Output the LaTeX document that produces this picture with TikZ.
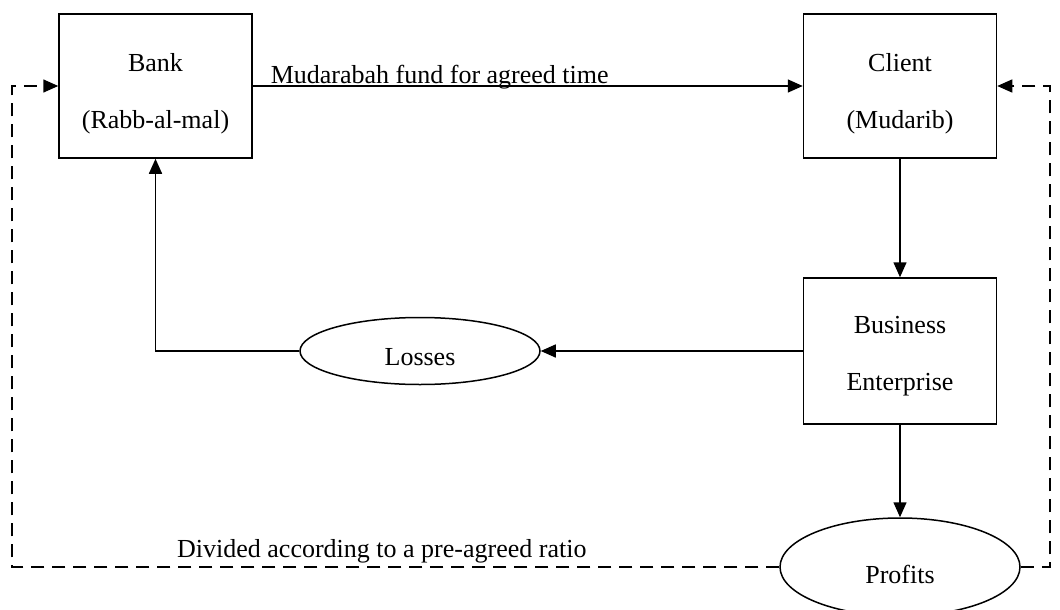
\documentclass[tikz,border=0pt]{standalone}
\usepackage{fontspec}
\setmainfont{Liberation Serif}
\usetikzlibrary{shapes.geometric,arrows.meta}

\tikzset{
  txt/.style={font=\fontsize{26}{57}\selectfont},
  boxnode/.style={draw, line width=1.5pt, txt, align=center, minimum width=193pt, inner sep=0pt},
  ovalnode/.style={draw, line width=1.5pt, ellipse, txt, inner sep=0pt, minimum width=240pt, text depth=0pt},
  flow/.style={line width=1.5pt, -{Triangle[length=15pt,width=13pt]}},
  back/.style={flow, dash pattern=on 13pt off 8pt},
}

\begin{document}
\begin{tikzpicture}[x=1pt,y=-1pt]
  \useasboundingbox (0,0) rectangle (1060,610);

  % parties and enterprise
  \node[boxnode, minimum height=144pt, text height=91pt] (bank)   at (155.5,86) {Bank\\(Rabb-al-mal)};
  \node[boxnode, minimum height=144pt, text height=91pt] (client) at (900,86) {Client\\(Mudarib)};
  \node[boxnode, minimum height=146pt, text height=85pt] (biz) at (900,351) {Business\\Enterprise};

  % outcomes
  \node[ovalnode, minimum height=67pt, text height=29pt] (loss) at (420,351) {Losses};
  \node[ovalnode, minimum height=98pt, text height=33pt] (prof) at (900,567) {Profits};

  % turning points of the dashed return paths
  \coordinate (dl) at (12,567);
  \coordinate (ul) at (12,86);
  \coordinate (dr) at (1050,567);
  \coordinate (ur) at (1050,86);
  \coordinate (lc) at (155.5,351);

  % capital flow
  \draw[flow] (bank.east) -- node[anchor=base, pos=0.34, yshift=3pt, txt] {Mudarabah fund for agreed time} (client.west);
  \draw[flow] (client.south) -- (biz.north);
  \draw[flow] (biz.west) -- (loss.east);
  \draw[flow] (biz.south) -- (prof.north);
  \draw[flow] (loss.west) -- (lc) -- (bank.south);

  % profit sharing
  \draw[back] (prof.west) -- node[anchor=base, pos=0.518, yshift=10pt, txt] {Divided according to a pre-agreed ratio} (dl) -- (ul) -- (bank.west);
  \draw[back] (prof.east) -- (dr) -- (ur) -- (client.east);
\end{tikzpicture}
\end{document}
